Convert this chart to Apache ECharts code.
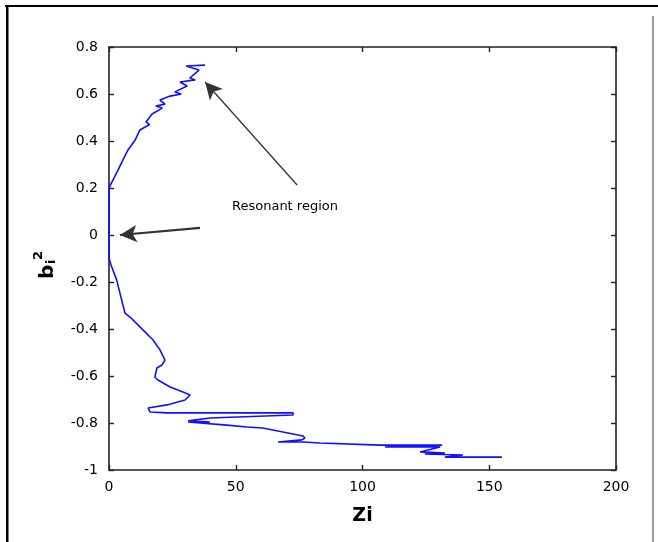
<!DOCTYPE html>
<html><head><meta charset="utf-8">
<script src="https://cdn.jsdelivr.net/npm/echarts@6/dist/echarts.min.js"></script>
<style>html,body{margin:0;padding:0;background:#fff}#c{width:658px;height:542px}</style>
</head><body><div id="c"></div>
<script>
// Curve (Zi, b_i^2)
const zi = [37.9,30.4,35.5,31.9,34.0,28.0,30.8,26.0,28.5,24.1,20.1,22.1,18.5,21.0,17.0,14.6,16.0,12.2,10.3,7.5,5.9,3.6,2.0,0.4,0,0,0.8,3.0,6.3,8.3,13.4,17.4,20.1,22.1,20.9,18.9,18.1,19.3,24.1,29.2,32.0,30.0,22.9,15.4,16.2,22.9,72.6,72.6,39.8,31.2,39.8,31.2,46.5,54.4,60.7,68.6,76.5,77.3,76.1,66.7,76.5,83.2,106.9,131.4,108.9,130.6,122.7,132.5,124.6,139.6,132.5,155.0];
const b2 = [0.723,0.719,0.702,0.668,0.660,0.651,0.634,0.609,0.600,0.591,0.574,0.557,0.549,0.540,0.515,0.481,0.470,0.447,0.404,0.362,0.328,0.277,0.243,0.209,0.191,-0.098,-0.128,-0.191,-0.332,-0.349,-0.404,-0.447,-0.489,-0.532,-0.553,-0.566,-0.604,-0.617,-0.647,-0.668,-0.681,-0.702,-0.723,-0.736,-0.753,-0.757,-0.757,-0.766,-0.779,-0.791,-0.796,-0.796,-0.809,-0.817,-0.821,-0.838,-0.855,-0.864,-0.872,-0.881,-0.881,-0.885,-0.894,-0.894,-0.902,-0.902,-0.923,-0.928,-0.932,-0.936,-0.945,-0.945];
const arrow1 = [[74.2,0.213],[37.9,0.651]];
const arrow2 = [[35.9,0.030],[4.3,0.0]];
const xTicks = {min:0,max:200,interval:50};
const yTicks = {min:-1,max:0.8,interval:0.2};

const pts = zi.map((x,i)=>[x,b2[i]]);
const font = 'DejaVu Sans';
const chart = echarts.init(document.getElementById('c'));
const axisCommon = {
  axisLine:{show:true,onZero:false,lineStyle:{color:'#222',width:1.6}},
  axisTick:{show:true,inside:true,length:5,lineStyle:{color:'#222',width:1.4}},
  splitLine:{show:false}
};
chart.setOption({
  animation:false,
  grid:{left:109,top:47,width:507,height:423,show:false},
  xAxis:[
    Object.assign({type:'value',position:'bottom',min:xTicks.min,max:xTicks.max,interval:xTicks.interval,
      axisLabel:{color:'#000',fontFamily:font,fontSize:14,margin:10},
      name:'Zi',nameLocation:'middle',nameGap:37,
      nameTextStyle:{fontFamily:font,fontSize:19,fontWeight:'bold',color:'#000'}},axisCommon),
    Object.assign({type:'value',position:'top',min:xTicks.min,max:xTicks.max,interval:xTicks.interval,
      axisLabel:{show:false}},axisCommon)
  ],
  yAxis:[
    Object.assign({type:'value',position:'left',min:yTicks.min,max:yTicks.max,interval:yTicks.interval,
      axisLabel:{color:'#000',fontFamily:font,fontSize:14,margin:11,
        formatter:v=>String(Math.round(v*10)/10)}},axisCommon),
    Object.assign({type:'value',position:'right',min:yTicks.min,max:yTicks.max,interval:yTicks.interval,
      axisLabel:{show:false}},axisCommon)
  ],
  series:[{
    type:'line',data:pts,showSymbol:false,
    lineStyle:{color:'#1010ff',width:1.6},
    markLine:{
      silent:true,symbol:['none','arrow'],symbolSize:[13,17],
      label:{show:false},
      data:[
        [{coord:arrow1[0],lineStyle:{color:'#333',width:1.3}},{coord:arrow1[1]}],
        [{coord:arrow2[0],lineStyle:{color:'#333',width:2.2}},{coord:arrow2[1]}]
      ],
      lineStyle:{color:'#333',type:'solid'},
      itemStyle:{color:'#000'}
    }
  }],
  graphic:[
    {type:'rect',shape:{x:5,y:5,width:653,height:2},style:{fill:'#000'}},
    {type:'rect',shape:{x:6,y:5,width:2.5,height:537},style:{fill:'#000'}},
    {type:'rect',shape:{x:652.5,y:16,width:1,height:526},style:{fill:'#333'}},
    {type:'text',left:232,top:200,style:{text:'Resonant region',fontFamily:font,fontSize:13,fill:'#000'}},
    {type:'text',x:38,y:279,rotation:Math.PI/2,style:{text:'b',fontFamily:font,fontSize:20,fontWeight:'bold',fill:'#000'}},
    {type:'text',x:32,y:260,rotation:Math.PI/2,style:{text:'2',fontFamily:font,fontSize:13,fontWeight:'bold',fill:'#000'}},
    {type:'text',x:45,y:264,rotation:Math.PI/2,style:{text:'i',fontFamily:font,fontSize:13,fontWeight:'bold',fill:'#000'}}
  ]
});
</script></body></html>
